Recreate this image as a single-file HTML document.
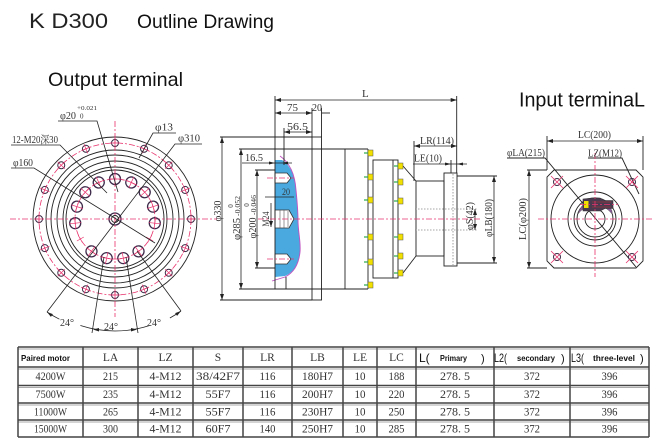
<!DOCTYPE html>
<html><head><meta charset="utf-8">
<style>
html,body{margin:0;padding:0;background:#fff;}
svg{display:block;}
.d{font-family:"Liberation Serif","Noto Serif CJK SC",serif;fill:#333;}
.s{font-family:"Liberation Sans",sans-serif;}
</style></head>
<body>
<svg width="658" height="444" viewBox="0 0 658 444" xmlns="http://www.w3.org/2000/svg">
<defs>
<marker id="ar" viewBox="0 0 6 4" refX="6" refY="2" markerWidth="6" markerHeight="4" markerUnits="userSpaceOnUse" orient="auto-start-reverse"><path d="M0,0 L6,2 L0,4 Z" fill="#222"/></marker>
<g id="oh"><circle cx="191" cy="219" r="3.5" stroke="#3a2a44" stroke-width="1" fill="none"/><path d="M186,219 H196 M191,214 V224" stroke="#e8336d" stroke-width="0.7"/></g>
<g id="ih"><circle cx="155" cy="219" r="5.5" stroke="#3d2a4a" stroke-width="1.3" fill="none"/><path d="M149,219 H161 M155,213 V225" stroke="#e8336d" stroke-width="0.7"/></g>
<g id="ip"><path d="M151,219 H159 M155,215 V223" stroke="#e8336d" stroke-width="0.7"/></g>
<g id="bolt"><rect x="0" y="-3" width="5" height="6" fill="#f2e000" stroke="#555" stroke-width="0.5"/><line x1="-4" y1="0" x2="0" y2="0" stroke="#2aa84a" stroke-width="1.2"/></g>
</defs>

<!-- Titles -->
<text x="29" y="28" class="s" font-size="21" fill="#222" textLength="79" lengthAdjust="spacingAndGlyphs">K D300</text>
<text x="137" y="28" class="s" font-size="19" fill="#111" textLength="137" lengthAdjust="spacingAndGlyphs">Outline Drawing</text>
<text x="48" y="86" class="s" font-size="19.5" fill="#111" textLength="135" lengthAdjust="spacingAndGlyphs">Output terminal</text>
<text x="519" y="106.5" class="s" font-size="20" fill="#111" textLength="126" lengthAdjust="spacingAndGlyphs">Input terminaL</text>

<!-- ============ LEFT DRAWING ============ -->
<g stroke="#222" stroke-width="0.9" fill="none">
<circle cx="115" cy="219" r="82"/>
<circle cx="115" cy="219" r="69"/>
<circle cx="115" cy="219" r="64"/>
<circle cx="115" cy="219" r="58"/>
<circle cx="115" cy="219" r="52"/>
<circle cx="115" cy="219" r="49"/>
<circle cx="115" cy="219" r="6" stroke-width="1.3" stroke="#3d2a4a"/>
<circle cx="115" cy="219" r="3.5"/>
</g>
<g stroke="#e8336d" stroke-width="0.8" fill="none" stroke-dasharray="6 2 2 2">
<circle cx="115" cy="219" r="76"/>
<circle cx="115" cy="219" r="40"/>
<line x1="10" y1="219" x2="217" y2="219"/>
<line x1="115" y1="121" x2="115" y2="317"/>
</g>
<use href="#oh"/>
<use href="#oh" transform="rotate(-22.5 115 219)"/>
<use href="#oh" transform="rotate(-45 115 219)"/>
<use href="#oh" transform="rotate(-67.5 115 219)"/>
<use href="#oh" transform="rotate(-90 115 219)"/>
<use href="#oh" transform="rotate(-112.5 115 219)"/>
<use href="#oh" transform="rotate(-135 115 219)"/>
<use href="#oh" transform="rotate(-157.5 115 219)"/>
<use href="#oh" transform="rotate(-180 115 219)"/>
<use href="#oh" transform="rotate(-202.5 115 219)"/>
<use href="#oh" transform="rotate(-225 115 219)"/>
<use href="#oh" transform="rotate(-247.5 115 219)"/>
<use href="#oh" transform="rotate(-270 115 219)"/>
<use href="#oh" transform="rotate(-292.5 115 219)"/>
<use href="#oh" transform="rotate(-315 115 219)"/>
<use href="#oh" transform="rotate(-337.5 115 219)"/>

<use href="#ih" transform="rotate(-90 115 219)"/>
<use href="#ih" transform="rotate(-66 115 219)"/>
<use href="#ih" transform="rotate(-42 115 219)"/>
<use href="#ih" transform="rotate(-18 115 219)"/>
<use href="#ih" transform="rotate(6 115 219)"/>
<use href="#ip" transform="rotate(30 115 219)"/>
<use href="#ih" transform="rotate(54 115 219)"/>
<use href="#ih" transform="rotate(78 115 219)"/>
<use href="#ih" transform="rotate(102 115 219)"/>
<use href="#ih" transform="rotate(126 115 219)"/>
<use href="#ip" transform="rotate(150 115 219)"/>
<use href="#ih" transform="rotate(174 115 219)"/>
<use href="#ih" transform="rotate(-162 115 219)"/>
<use href="#ih" transform="rotate(-138 115 219)"/>
<use href="#ih" transform="rotate(-114 115 219)"/>

<!-- leaders -->
<g stroke="#222" stroke-width="0.8" fill="none">
<path d="M58,121 H97 L118,192"/>
<path d="M176,133 H153 L139,158"/>
<path d="M202,144 H175 L47,312"/>
<path d="M11,145 H60 L107,193"/>
<path d="M11,168 H34 L155,243"/>
<line x1="104" y1="257" x2="92" y2="333"/>
<line x1="126" y1="257" x2="138" y2="333"/>
<line x1="137" y1="251" x2="181" y2="311"/>
<path d="M80.4,325.5 A112,112 0 0 0 149.6,325.5"/>
<path d="M47,312 A114.6,114.6 0 0 0 59.4,319.2"/>
<path d="M181,311 A113.2,113.2 0 0 1 169.9,318"/>
</g>
<g fill="#222">
<path d="M93,329.5 L99,328 L99,331.5 Z"/>
<path d="M137,329.5 L131,328 L131,331.5 Z"/>
<path d="M47,312 L52.9,314.1 L50.9,316.9 Z"/>
<path d="M181,311 L177.1,315.9 L175.1,313.1 Z"/>
</g>
<text x="60" y="119" class="d" font-size="11" textLength="16" lengthAdjust="spacingAndGlyphs">φ20</text>
<text x="77" y="110" class="d" font-size="6.5" textLength="20" lengthAdjust="spacingAndGlyphs">+0.021</text>
<text x="80" y="118.5" class="d" font-size="7">0</text>
<text x="155" y="130.5" class="d" font-size="11" textLength="18" lengthAdjust="spacingAndGlyphs">φ13</text>
<text x="178" y="141.5" class="d" font-size="11" textLength="22" lengthAdjust="spacingAndGlyphs">φ310</text>
<text x="12" y="143" class="d" font-size="10.5" textLength="46" lengthAdjust="spacingAndGlyphs">12-M20深30</text>
<text x="13" y="166" class="d" font-size="11" textLength="20" lengthAdjust="spacingAndGlyphs">φ160</text>
<text x="60" y="326" class="d" font-size="10.5" fill="#555" textLength="14" lengthAdjust="spacingAndGlyphs">24°</text>
<text x="104" y="330" class="d" font-size="10.5" fill="#555" textLength="14" lengthAdjust="spacingAndGlyphs">24°</text>
<text x="147" y="326" class="d" font-size="10.5" fill="#555" textLength="14" lengthAdjust="spacingAndGlyphs">24°</text>

<!-- ============ MIDDLE DRAWING ============ -->
<path d="M275,160 L282,160 C290,165 295,175 296,190 C297,200 298,210 298,220 C298,232 301,242 300,252 C299,262 295,272 285,276 L275,277 Z" fill="#4aaae0"/>
<path d="M280,156 C290,163 295,175 296,190 C297,200 298,210 298,220 C298,232 301,242 300,252 C299,262 295,272 285,277 L272,281" stroke="#c050c0" stroke-width="0.9" fill="none"/>
<g fill="#fff" stroke="#333" stroke-width="0.8">
<path d="M275,173 L287,173 L291,178 L287,183 L275,183 Z"/>
<path d="M275,210 L289,210 L294,219 L289,228 L275,228 Z"/>
<path d="M275,254 L287,254 L291,259 L287,264 L275,264 Z"/>
</g>
<path d="M280,210 V228 M284,210 V228 M288,211 V227" stroke="#555" stroke-width="0.6"/>
<g stroke="#222" stroke-width="0.9" fill="none">
<line x1="275" y1="96" x2="275" y2="289"/>
<line x1="456.7" y1="96" x2="456.7" y2="173"/>
<rect x="312" y="137" width="9.5" height="163"/>
<line x1="312" y1="108" x2="312" y2="137"/>
<line x1="321.5" y1="108" x2="321.5" y2="137"/>
<line x1="239" y1="149" x2="368" y2="149"/>
<line x1="239" y1="289" x2="368" y2="289"/>
<line x1="345" y1="149" x2="345" y2="289"/>
<line x1="368" y1="149" x2="368" y2="289"/>
<rect x="373" y="160" width="25" height="118"/>
<line x1="393" y1="160" x2="393" y2="278"/>
<line x1="403" y1="166" x2="416" y2="181"/>
<line x1="403" y1="273" x2="416" y2="256"/>
<rect x="416" y="181" width="28" height="75"/>
<rect x="444" y="173" width="13" height="93"/>
<line x1="457" y1="176" x2="497" y2="176"/>
<line x1="457" y1="263" x2="497" y2="263"/>
<line x1="220" y1="137" x2="312" y2="137"/>
<line x1="220" y1="300" x2="312" y2="300"/>
<line x1="255" y1="170" x2="275" y2="170"/>
<line x1="255" y1="268" x2="275" y2="268"/>
<line x1="284" y1="128" x2="284" y2="165"/>
<line x1="286" y1="277" x2="286" y2="289"/>
<line x1="414" y1="141" x2="414" y2="181"/>
<line x1="451" y1="160" x2="451" y2="173"/>
<line x1="330" y1="113" x2="322" y2="113"/>
</g>
<g stroke="#888" stroke-width="0.8" stroke-dasharray="1.5 1.5" fill="none">
<line x1="415" y1="209" x2="478" y2="209"/>
<line x1="415" y1="230" x2="478" y2="230"/>
<line x1="453" y1="174" x2="453" y2="265"/>
</g>
<g stroke="#222" stroke-width="0.8" fill="none" marker-start="url(#ar)" marker-end="url(#ar)">
<line x1="275" y1="100" x2="456.7" y2="100"/>
<line x1="275" y1="113" x2="312" y2="113"/>
<line x1="284" y1="132" x2="312" y2="132"/>
<line x1="222" y1="137" x2="222" y2="300"/>
<line x1="241" y1="149" x2="241" y2="289"/>
<line x1="257" y1="170" x2="257" y2="268"/>
<line x1="475" y1="209" x2="475" y2="230"/>
<line x1="494" y1="176" x2="494" y2="263"/>
<line x1="414" y1="146" x2="457" y2="146"/>
</g>
<g stroke="#222" stroke-width="0.8" fill="none">
<line x1="242" y1="163" x2="292" y2="163"/>
<line x1="265" y1="197" x2="294" y2="197"/>
<line x1="413" y1="164" x2="467" y2="164"/>
<line x1="271" y1="203" x2="271" y2="227" marker-end="url(#ar)"/>
</g>
<g fill="#222">
<path d="M275,163 L269,161.5 L269,164.5 Z"/>
<path d="M282,163 L288,161.5 L288,164.5 Z"/>
<path d="M451,164 L445,162.5 L445,165.5 Z"/>
<path d="M457,164 L463,162.5 L463,165.5 Z"/>
</g>
<g stroke="#e8336d" stroke-width="0.8" stroke-dasharray="6 2 2 2" fill="none">
<line x1="258" y1="219" x2="482" y2="219"/>
<line x1="267" y1="178" x2="294" y2="178"/>
<line x1="267" y1="259" x2="294" y2="259"/>
</g>
<use href="#bolt" x="368" y="153"/>
<use href="#bolt" x="368" y="177"/>
<use href="#bolt" x="368" y="200"/>
<use href="#bolt" x="368" y="237"/>
<use href="#bolt" x="368" y="262"/>
<use href="#bolt" x="368" y="285"/>
<use href="#bolt" x="398" y="166"/>
<use href="#bolt" x="398" y="182"/>
<use href="#bolt" x="398" y="201"/>
<use href="#bolt" x="398" y="237"/>
<use href="#bolt" x="398" y="256"/>
<use href="#bolt" x="398" y="273"/>
<text x="362" y="97" class="d" font-size="11">L</text>
<text x="287" y="111" class="d" font-size="10.5" textLength="11" lengthAdjust="spacingAndGlyphs">75</text>
<text x="312" y="111" class="d" font-size="10.5" textLength="10" lengthAdjust="spacingAndGlyphs">20</text>
<text x="287" y="130" class="d" font-size="10.5" textLength="21" lengthAdjust="spacingAndGlyphs">56.5</text>
<text x="245" y="161" class="d" font-size="10.5" textLength="18" lengthAdjust="spacingAndGlyphs">16.5</text>
<text x="282" y="195" class="d" font-size="9" textLength="8" lengthAdjust="spacingAndGlyphs">20</text>
<text x="420" y="144" class="d" font-size="10.5" textLength="34" lengthAdjust="spacingAndGlyphs">LR(114)</text>
<text x="414" y="161.5" class="d" font-size="10.5" textLength="28" lengthAdjust="spacingAndGlyphs">LE(10)</text>
<text transform="translate(221,211) rotate(-90)" class="d" font-size="11" text-anchor="middle" textLength="21" lengthAdjust="spacingAndGlyphs">φ330</text>
<text transform="translate(240,229) rotate(-90)" class="d" font-size="10.5" text-anchor="middle" textLength="22" lengthAdjust="spacingAndGlyphs">φ285</text>
<text transform="translate(240,206) rotate(-90)" class="d" font-size="7" text-anchor="middle" textLength="20" lengthAdjust="spacingAndGlyphs">-0.052</text>
<text transform="translate(233,206) rotate(-90)" class="d" font-size="7" text-anchor="middle">0</text>
<text transform="translate(256,228) rotate(-90)" class="d" font-size="10.5" text-anchor="middle" textLength="21" lengthAdjust="spacingAndGlyphs">φ200</text>
<text transform="translate(256,205) rotate(-90)" class="d" font-size="7" text-anchor="middle" textLength="20" lengthAdjust="spacingAndGlyphs">-0.046</text>
<text transform="translate(249,205) rotate(-90)" class="d" font-size="7" text-anchor="middle">0</text>
<text transform="translate(269,219) rotate(-90)" class="d" font-size="9" text-anchor="middle" textLength="15" lengthAdjust="spacingAndGlyphs">M24</text>
<text transform="translate(473,216) rotate(-90)" class="d" font-size="10.5" text-anchor="middle" textLength="28" lengthAdjust="spacingAndGlyphs">φS(42)</text>
<text transform="translate(492,218) rotate(-90)" class="d" font-size="10.5" text-anchor="middle" textLength="38" lengthAdjust="spacingAndGlyphs">φLB(180)</text>

<!-- ============ RIGHT DRAWING ============ -->
<g stroke="#222" stroke-width="0.9" fill="none">
<path d="M554,170 H636 L643,177 V261 L636,268 H554 L547,261 V177 Z"/>
<line x1="527" y1="170" x2="547" y2="170"/>
<line x1="527" y1="268" x2="547" y2="268"/>
<line x1="547" y1="136" x2="547" y2="170"/>
<line x1="643" y1="136" x2="643" y2="170"/>
<circle cx="595" cy="219" r="44"/>
<circle cx="595" cy="219" r="27"/>
<circle cx="595" cy="219" r="21"/>
<circle cx="595" cy="219" r="18"/>
<circle cx="595" cy="219" r="10"/>
<path d="M507,158 H545 L636,267"/>
<path d="M588,158 H622 L639,194"/>
</g>
<g stroke="#222" stroke-width="0.8" fill="none" marker-start="url(#ar)" marker-end="url(#ar)">
<line x1="529" y1="170" x2="529" y2="268"/>
<line x1="547" y1="141" x2="643" y2="141"/>
</g>
<path d="M579,211 A18,18 0 0 1 612,211 L612,214 A21,21 0 0 0 578,214 Z" fill="#8a5a9a" stroke="#555" stroke-width="0.5"/>
<path d="M583,199 L592,198 L600,198 L605,200.5 L613,200.5 L613,208.5 L605,208.5 L600,211 L583,211 Z" fill="#4a3a50" stroke="#333" stroke-width="0.6"/>
<rect x="584" y="201" width="4.5" height="7" fill="#f2e000"/>
<path d="M592,202 H611 M592,207 H611" stroke="#b33" stroke-width="0.5"/>
<g stroke="#3a2a44" stroke-width="1" fill="none">
<circle cx="557" cy="182" r="3.5"/>
<circle cx="632" cy="182" r="3.5"/>
<circle cx="557" cy="257" r="3.5"/>
<circle cx="632" cy="257" r="3.5"/>
</g>
<g stroke="#e8336d" stroke-width="0.8" fill="none">
<path d="M551,176 L563,188 M563,176 L551,188"/>
<path d="M626,176 L638,188 M638,176 L626,188"/>
<path d="M551,251 L563,263 M563,251 L551,263"/>
<path d="M626,251 L638,263 M638,251 L626,263"/>
</g>
<g stroke="#e8336d" stroke-width="0.8" stroke-dasharray="6 2 2 2" fill="none">
<line x1="538" y1="219" x2="653" y2="219"/>
<line x1="595" y1="153" x2="595" y2="277"/>
<line x1="580" y1="204.5" x2="618" y2="204.5"/>
</g>
<text x="578" y="138" class="d" font-size="10.5" textLength="33" lengthAdjust="spacingAndGlyphs">LC(200)</text>
<text x="507" y="156" class="d" font-size="10.5" textLength="38" lengthAdjust="spacingAndGlyphs">φLA(215)</text>
<text x="588" y="156.5" class="d" font-size="10.5" textLength="34" lengthAdjust="spacingAndGlyphs">LZ(M12)</text>
<text transform="translate(526,219) rotate(-90)" class="d" font-size="10.5" text-anchor="middle" textLength="42" lengthAdjust="spacingAndGlyphs">LC(φ200)</text>

<!-- ============ TABLE ============ -->
<g stroke="#aaa" stroke-width="1">
<line x1="18" y1="349" x2="649" y2="349"/>
<line x1="18" y1="369" x2="649" y2="369"/>
<line x1="18" y1="387.5" x2="649" y2="387.5"/>
<line x1="18" y1="405" x2="649" y2="405"/>
<line x1="18" y1="422" x2="649" y2="422"/>
</g>
<g stroke="#444" stroke-width="1.5">
<line x1="18" y1="347" x2="649" y2="347"/>
<line x1="18" y1="367" x2="649" y2="367"/>
<line x1="18" y1="385.5" x2="649" y2="385.5"/>
<line x1="18" y1="403" x2="649" y2="403"/>
<line x1="18" y1="420" x2="649" y2="420"/>
<line x1="18" y1="437" x2="649" y2="437"/>
<line x1="18" y1="347" x2="18" y2="437"/>
<line x1="83" y1="347" x2="83" y2="437"/>
<line x1="138" y1="347" x2="138" y2="437"/>
<line x1="193" y1="347" x2="193" y2="437"/>
<line x1="243" y1="347" x2="243" y2="437"/>
<line x1="292" y1="347" x2="292" y2="437"/>
<line x1="343" y1="347" x2="343" y2="437"/>
<line x1="377" y1="347" x2="377" y2="437"/>
<line x1="416" y1="347" x2="416" y2="437"/>
<line x1="494" y1="347" x2="494" y2="437"/>
<line x1="570" y1="347" x2="570" y2="437"/>
<line x1="649" y1="347" x2="649" y2="437"/>
</g>
<text x="21" y="361" class="s" font-size="8.5" font-weight="bold" fill="#111" textLength="49" lengthAdjust="spacingAndGlyphs">Paired motor</text>
<g class="d" font-size="11.5" fill="#555" text-anchor="middle">
<text x="110.5" y="361">LA</text>
<text x="165.5" y="361">LZ</text>
<text x="218" y="361">S</text>
<text x="267.5" y="361">LR</text>
<text x="317.5" y="361">LB</text>
<text x="360" y="361">LE</text>
<text x="396.5" y="361">LC</text>
</g>
<text x="419" y="362" class="s" font-size="12" fill="#111">L(</text>
<text x="440" y="361" class="s" font-size="8" font-weight="bold" fill="#111" textLength="27" lengthAdjust="spacingAndGlyphs">Primary</text>
<text x="481" y="362" class="s" font-size="11" fill="#111">)</text>
<text x="494" y="362" class="s" font-size="12" fill="#111" textLength="13" lengthAdjust="spacingAndGlyphs">L2(</text>
<text x="517" y="361" class="s" font-size="8" font-weight="bold" fill="#111" textLength="38" lengthAdjust="spacingAndGlyphs">secondary</text>
<text x="561" y="362" class="s" font-size="11" fill="#111">)</text>
<text x="571" y="362" class="s" font-size="12" fill="#111" textLength="13" lengthAdjust="spacingAndGlyphs">L3(</text>
<text x="593" y="361" class="s" font-size="8" font-weight="bold" fill="#111" textLength="42" lengthAdjust="spacingAndGlyphs">three-level</text>
<text x="640" y="362" class="s" font-size="11" fill="#111">)</text>
<g class="d" font-size="11.5" fill="#555" text-anchor="middle">
<text x="50.5" y="380" textLength="30" lengthAdjust="spacingAndGlyphs">4200W</text>
<text x="110.5" y="380" textLength="15" lengthAdjust="spacingAndGlyphs">215</text>
<text x="165.5" y="380" textLength="32" lengthAdjust="spacingAndGlyphs">4-M12</text>
<text x="218" y="380" textLength="44" lengthAdjust="spacingAndGlyphs">38/42F7</text>
<text x="267.5" y="380" textLength="16" lengthAdjust="spacingAndGlyphs">116</text>
<text x="317.5" y="380" textLength="31" lengthAdjust="spacingAndGlyphs">180H7</text>
<text x="360" y="380" textLength="11" lengthAdjust="spacingAndGlyphs">10</text>
<text x="396.5" y="380" textLength="16" lengthAdjust="spacingAndGlyphs">188</text>
<text x="455" y="380" textLength="30" lengthAdjust="spacingAndGlyphs">278. 5</text>
<text x="532" y="380" textLength="16" lengthAdjust="spacingAndGlyphs">372</text>
<text x="609.5" y="380" textLength="16" lengthAdjust="spacingAndGlyphs">396</text>

<text x="50.5" y="398" textLength="30" lengthAdjust="spacingAndGlyphs">7500W</text>
<text x="110.5" y="398" textLength="15" lengthAdjust="spacingAndGlyphs">235</text>
<text x="165.5" y="398" textLength="32" lengthAdjust="spacingAndGlyphs">4-M12</text>
<text x="218" y="398" textLength="25" lengthAdjust="spacingAndGlyphs">55F7</text>
<text x="267.5" y="398" textLength="16" lengthAdjust="spacingAndGlyphs">116</text>
<text x="317.5" y="398" textLength="31" lengthAdjust="spacingAndGlyphs">200H7</text>
<text x="360" y="398" textLength="11" lengthAdjust="spacingAndGlyphs">10</text>
<text x="396.5" y="398" textLength="16" lengthAdjust="spacingAndGlyphs">220</text>
<text x="455" y="398" textLength="30" lengthAdjust="spacingAndGlyphs">278. 5</text>
<text x="532" y="398" textLength="16" lengthAdjust="spacingAndGlyphs">372</text>
<text x="609.5" y="398" textLength="16" lengthAdjust="spacingAndGlyphs">396</text>

<text x="50.5" y="415.5" textLength="33" lengthAdjust="spacingAndGlyphs">11000W</text>
<text x="110.5" y="415.5" textLength="15" lengthAdjust="spacingAndGlyphs">265</text>
<text x="165.5" y="415.5" textLength="32" lengthAdjust="spacingAndGlyphs">4-M12</text>
<text x="218" y="415.5" textLength="25" lengthAdjust="spacingAndGlyphs">55F7</text>
<text x="267.5" y="415.5" textLength="16" lengthAdjust="spacingAndGlyphs">116</text>
<text x="317.5" y="415.5" textLength="31" lengthAdjust="spacingAndGlyphs">230H7</text>
<text x="360" y="415.5" textLength="11" lengthAdjust="spacingAndGlyphs">10</text>
<text x="396.5" y="415.5" textLength="16" lengthAdjust="spacingAndGlyphs">250</text>
<text x="455" y="415.5" textLength="30" lengthAdjust="spacingAndGlyphs">278. 5</text>
<text x="532" y="415.5" textLength="16" lengthAdjust="spacingAndGlyphs">372</text>
<text x="609.5" y="415.5" textLength="16" lengthAdjust="spacingAndGlyphs">396</text>

<text x="50.5" y="432.5" textLength="33" lengthAdjust="spacingAndGlyphs">15000W</text>
<text x="110.5" y="432.5" textLength="15" lengthAdjust="spacingAndGlyphs">300</text>
<text x="165.5" y="432.5" textLength="32" lengthAdjust="spacingAndGlyphs">4-M12</text>
<text x="218" y="432.5" textLength="25" lengthAdjust="spacingAndGlyphs">60F7</text>
<text x="267.5" y="432.5" textLength="16" lengthAdjust="spacingAndGlyphs">140</text>
<text x="317.5" y="432.5" textLength="31" lengthAdjust="spacingAndGlyphs">250H7</text>
<text x="360" y="432.5" textLength="11" lengthAdjust="spacingAndGlyphs">10</text>
<text x="396.5" y="432.5" textLength="16" lengthAdjust="spacingAndGlyphs">285</text>
<text x="455" y="432.5" textLength="30" lengthAdjust="spacingAndGlyphs">278. 5</text>
<text x="532" y="432.5" textLength="16" lengthAdjust="spacingAndGlyphs">372</text>
<text x="609.5" y="432.5" textLength="16" lengthAdjust="spacingAndGlyphs">396</text>
</g>
</svg>
</body></html>
